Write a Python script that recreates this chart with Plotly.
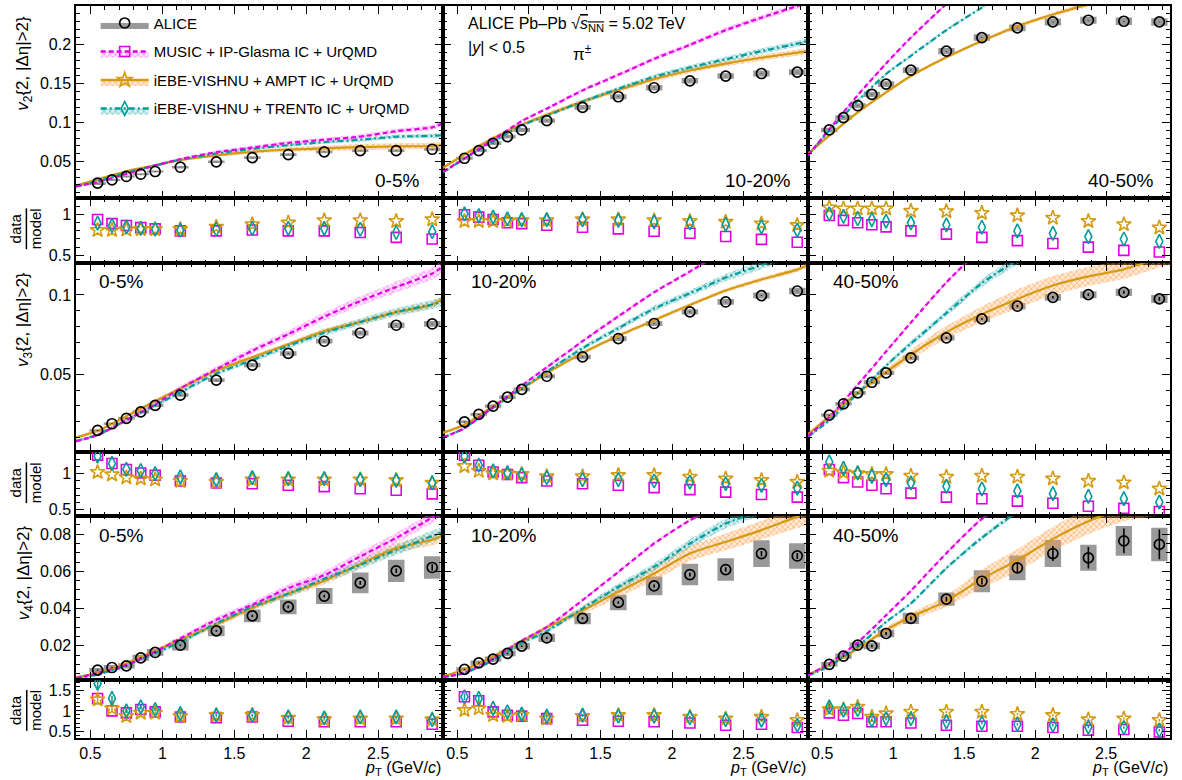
import plotly.graph_objects as go
from plotly.subplots import make_subplots

# ---------------- data ----------------
PT = [0.55, 0.65, 0.75, 0.85, 0.95, 1.125, 1.375, 1.625, 1.875, 2.125, 2.375, 2.625, 2.875]
MPT = [0.4, 0.55, 0.75, 0.95, 1.125, 1.375, 1.625, 1.875, 2.125, 2.375, 2.625, 2.875, 2.95]
CENTS = ["0-5%", "10-20%", "40-50%"]
MODELS = ["MUSIC + IP-Glasma IC + UrQMD", "iEBE-VISHNU + AMPT IC + UrQMD", "iEBE-VISHNU + TRENTo IC + UrQMD"]

# v2 data
v2_data_0005 = [0.0222, 0.0265, 0.0308, 0.0337, 0.0372, 0.0427, 0.0496, 0.055, 0.059, 0.0624, 0.064, 0.064, 0.0658]
v2_syst_0005 = [0.0012, 0.0012, 0.0013, 0.0013, 0.0014, 0.0015, 0.0016, 0.0017, 0.0018, 0.0018, 0.0019, 0.0019, 0.002]
v2_data_1020 = [0.0542, 0.0641, 0.0735, 0.082, 0.0906, 0.1026, 0.1196, 0.1333, 0.1449, 0.1538, 0.1599, 0.1632, 0.165]
v2_syst_1020 = [0.0018, 0.002, 0.0022, 0.0024, 0.0026, 0.0028, 0.003, 0.0032, 0.0034, 0.0035, 0.0036, 0.0037, 0.0038]
v2_data_4050 = [0.0906, 0.1064, 0.1218, 0.1363, 0.1496, 0.1676, 0.1919, 0.2094, 0.2218, 0.2295, 0.2317, 0.2304, 0.2295]
v2_syst_4050 = [0.003, 0.003, 0.0032, 0.0034, 0.0036, 0.0038, 0.004, 0.0042, 0.0044, 0.0045, 0.0046, 0.0047, 0.0048]
v2_stat_0005 = [0.0002] * 13
v2_stat_1020 = [0.0002] * 13
v2_stat_4050 = [0.0003] * 13

# v3 data
v3_data_0005 = [0.0145, 0.0187, 0.0221, 0.0262, 0.0303, 0.0368, 0.0462, 0.0557, 0.0631, 0.0708, 0.076, 0.0809, 0.0817]
v3_syst_0005 = [0.0008, 0.0008, 0.0009, 0.001, 0.001, 0.0011, 0.0012, 0.0013, 0.0014, 0.0015, 0.0016, 0.0017, 0.0018]
v3_data_1020 = [0.0199, 0.0246, 0.0298, 0.0355, 0.0404, 0.0487, 0.0609, 0.0725, 0.082, 0.0893, 0.0956, 0.0996, 0.1025]
v3_syst_1020 = [0.0009, 0.0009, 0.001, 0.0011, 0.0012, 0.0013, 0.0014, 0.0015, 0.0016, 0.0017, 0.0018, 0.0019, 0.002]
v3_data_4050 = [0.0241, 0.0313, 0.0382, 0.0449, 0.0508, 0.0603, 0.0729, 0.0849, 0.0929, 0.0985, 0.1002, 0.1017, 0.0975]
v3_syst_4050 = [0.001, 0.0011, 0.0012, 0.0013, 0.0014, 0.0015, 0.0017, 0.0019, 0.002, 0.0021, 0.0022, 0.0023, 0.0025]
v3_stat_0005 = [0.0002] * 13
v3_stat_1020 = [0.0002] * 13
v3_stat_4050 = [0.0003, 0.0003, 0.0003, 0.0003, 0.0003, 0.0004, 0.0005, 0.0006, 0.0007, 0.0008, 0.0009, 0.001, 0.0012]

# v4 data
v4_data_0005 = [0.0069, 0.0083, 0.0092, 0.0135, 0.0164, 0.0203, 0.028, 0.0361, 0.0409, 0.0467, 0.0538, 0.0603, 0.0621]
v4_syst_0005 = [0.0012, 0.0013, 0.0014, 0.0016, 0.0018, 0.0029, 0.0029, 0.0034, 0.004, 0.0043, 0.0056, 0.006, 0.006]
v4_stat_0005 = [0.0003, 0.0003, 0.0003, 0.0003, 0.0004, 0.0004, 0.0005, 0.0006, 0.0007, 0.0008, 0.001, 0.0012, 0.0018]
v4_data_1020 = [0.0073, 0.0108, 0.0128, 0.0159, 0.0198, 0.0242, 0.0347, 0.0433, 0.0522, 0.0583, 0.061, 0.0696, 0.0683]
v4_syst_1020 = [0.0012, 0.0013, 0.0014, 0.0016, 0.0018, 0.0022, 0.0031, 0.0042, 0.005, 0.0058, 0.006, 0.0072, 0.0069]
v4_stat_1020 = [0.0003, 0.0003, 0.0003, 0.0004, 0.0004, 0.0005, 0.0006, 0.0007, 0.0008, 0.001, 0.0012, 0.0014, 0.0016]
v4_data_4050 = [0.01, 0.0144, 0.0203, 0.0199, 0.0266, 0.0347, 0.0451, 0.0547, 0.0619, 0.0696, 0.0673, 0.0764, 0.0745]
v4_syst_4050 = [0.0012, 0.0014, 0.0016, 0.0018, 0.002, 0.003, 0.0036, 0.0059, 0.0066, 0.0073, 0.007, 0.008, 0.009]
v4_stat_4050 = [0.0004, 0.0005, 0.0006, 0.0007, 0.0008, 0.001, 0.0013, 0.0018, 0.0027, 0.004, 0.0058, 0.0067, 0.008]

# model central values (on MPT)
v2_music_0005 = [0.018, 0.0236, 0.034, 0.045, 0.053, 0.062, 0.068, 0.074, 0.078, 0.082, 0.089, 0.094, 0.099]
v2_ampt_0005 = [0.019, 0.027, 0.0375, 0.045, 0.052, 0.058, 0.0625, 0.0655, 0.067, 0.0685, 0.0695, 0.070, 0.071]
v2_trento_0005 = [0.018, 0.0248, 0.0355, 0.045, 0.0525, 0.0605, 0.0663, 0.071, 0.075, 0.078, 0.082, 0.083, 0.084]
v2_music_1020 = [0.037, 0.054, 0.078, 0.102, 0.118, 0.1415, 0.1615, 0.182, 0.2, 0.219, 0.235, 0.25, 0.255]
v2_ampt_1020 = [0.042, 0.059, 0.080, 0.0975, 0.110, 0.127, 0.142, 0.156, 0.167, 0.176, 0.1835, 0.19, 0.192]
v2_trento_1020 = [0.036, 0.0537, 0.0758, 0.0964, 0.109, 0.127, 0.1435, 0.159, 0.171, 0.1815, 0.192, 0.2015, 0.205]
v2_music_4050 = [0.058, 0.0915, 0.1353, 0.176, 0.2095, 0.2525, 0.291, 0.326, 0.356, 0.386, 0.411, 0.425, 0.43]
v2_ampt_4050 = [0.06, 0.0834, 0.1133, 0.139, 0.160, 0.184, 0.205, 0.224, 0.239, 0.252, 0.262, 0.273, 0.276]
v2_trento_4050 = [0.058, 0.0897, 0.128, 0.1626, 0.186, 0.219, 0.248, 0.277, 0.298, 0.317, 0.329, 0.3425, 0.345]

v3_music_0005 = [0.0076, 0.0116, 0.0209, 0.031, 0.041, 0.0531, 0.0648, 0.0753, 0.0863, 0.0962, 0.105, 0.1135, 0.118]
v3_ampt_0005 = [0.010, 0.0142, 0.0234, 0.033, 0.041, 0.0523, 0.0607, 0.0688, 0.0772, 0.0829, 0.0892, 0.0939, 0.098]
v3_trento_0005 = [0.0078, 0.0117, 0.0209, 0.0303, 0.0386, 0.0504, 0.059, 0.0679, 0.0761, 0.0829, 0.0892, 0.094, 0.096]
v3_music_1020 = [0.010, 0.0159, 0.0292, 0.0428, 0.0543, 0.0708, 0.0865, 0.1017, 0.1148, 0.1285, 0.14, 0.152, 0.155]
v3_ampt_1020 = [0.013, 0.0181, 0.0298, 0.0408, 0.0507, 0.0634, 0.0743, 0.084, 0.0937, 0.1028, 0.1098, 0.116, 0.119]
v3_trento_1020 = [0.0098, 0.016, 0.0288, 0.041, 0.0516, 0.0664, 0.079, 0.0914, 0.1011, 0.111, 0.1189, 0.128, 0.131]
v3_music_4050 = [0.011, 0.0228, 0.0433, 0.0643, 0.0826, 0.108, 0.130, 0.150, 0.167, 0.182, 0.196, 0.205, 0.21]
v3_ampt_4050 = [0.012, 0.0233, 0.0382, 0.0513, 0.0624, 0.0765, 0.0878, 0.0975, 0.106, 0.1117, 0.1162, 0.1234, 0.125]
v3_trento_4050 = [0.0105, 0.0208, 0.0379, 0.0554, 0.0693, 0.0885, 0.1075, 0.1222, 0.1364, 0.1463, 0.1557, 0.161, 0.165]

v4_music_0005 = [0.0026, 0.0053, 0.0097, 0.0168, 0.0239, 0.034, 0.042, 0.051, 0.058, 0.068, 0.078, 0.089, 0.093]
v4_ampt_0005 = [0.003, 0.0054, 0.0106, 0.0173, 0.0233, 0.0314, 0.0404, 0.048, 0.055, 0.064, 0.0725, 0.077, 0.0795]
v4_trento_0005 = [0.0025, 0.0045, 0.0095, 0.016, 0.022, 0.032, 0.041, 0.048, 0.056, 0.0635, 0.0715, 0.079, 0.0812]
v4_music_1020 = [0.0033, 0.0054, 0.0131, 0.0228, 0.030, 0.0445, 0.0597, 0.075, 0.0875, 0.097, 0.106, 0.116, 0.12]
v4_ampt_1020 = [0.0035, 0.0072, 0.0143, 0.0222, 0.0299, 0.039, 0.049, 0.0589, 0.0696, 0.0759, 0.0822, 0.0893, 0.091]
v4_trento_1020 = [0.003, 0.0054, 0.0121, 0.0215, 0.0278, 0.040, 0.0517, 0.0624, 0.075, 0.0857, 0.093, 0.102, 0.105]
v4_music_4050 = [0.0042, 0.0105, 0.0217, 0.0364, 0.0496, 0.0698, 0.0882, 0.10, 0.118, 0.129, 0.141, 0.155, 0.16]
v4_ampt_4050 = [0.0045, 0.0097, 0.0185, 0.0285, 0.0356, 0.044, 0.056, 0.066, 0.0775, 0.087, 0.094, 0.097, 0.098]
v4_trento_4050 = [0.004, 0.0091, 0.0196, 0.0328, 0.0428, 0.0618, 0.0781, 0.0924, 0.1077, 0.112, 0.1295, 0.1433, 0.147]

# model band half-widths (on MPT)
bw2_music_0005 = [0.0015, 0.0015, 0.0016, 0.0017, 0.0018, 0.002, 0.0022, 0.0024, 0.0026, 0.0028, 0.003, 0.0032, 0.0034]
bw2_ampt_0005 = [0.0015, 0.0015, 0.0016, 0.0017, 0.0018, 0.002, 0.0025, 0.003, 0.0035, 0.004, 0.004, 0.004, 0.004]
bw2_trento_0005 = [0.0012, 0.0012, 0.0013, 0.0014, 0.0015, 0.0016, 0.0018, 0.002, 0.0022, 0.0024, 0.0026, 0.0028, 0.003]
bw2_music_1020 = [0.0015, 0.0016, 0.0018, 0.002, 0.0022, 0.0024, 0.0026, 0.0028, 0.003, 0.0032, 0.0034, 0.0036, 0.0038]
bw2_ampt_1020 = [0.0018, 0.002, 0.0022, 0.0024, 0.0026, 0.0028, 0.003, 0.0032, 0.0034, 0.0036, 0.0038, 0.004, 0.004]
bw2_trento_1020 = [0.0015, 0.0016, 0.0018, 0.002, 0.0022, 0.0024, 0.0026, 0.0028, 0.003, 0.0033, 0.0036, 0.0038, 0.004]
bw2_music_4050 = [0.002, 0.002, 0.002, 0.002, 0.002, 0.002, 0.002, 0.002, 0.002, 0.002, 0.002, 0.002, 0.002]
bw2_ampt_4050 = [0.002, 0.002, 0.002, 0.002, 0.002, 0.0022, 0.0024, 0.0026, 0.0028, 0.003, 0.003, 0.003, 0.003]
bw2_trento_4050 = [0.002, 0.002, 0.002, 0.002, 0.002, 0.002, 0.002, 0.002, 0.002, 0.002, 0.002, 0.002, 0.002]

bw3_music_0005 = [0.0008, 0.001, 0.0012, 0.0014, 0.0016, 0.0018, 0.002, 0.0023, 0.0026, 0.003, 0.0034, 0.0038, 0.004]
bw3_ampt_0005 = [0.0008, 0.0008, 0.0009, 0.001, 0.0011, 0.0012, 0.0013, 0.0014, 0.0015, 0.0016, 0.0017, 0.0018, 0.002]
bw3_trento_0005 = [0.0008, 0.0008, 0.0009, 0.001, 0.0012, 0.0014, 0.0016, 0.0018, 0.002, 0.0022, 0.0025, 0.0028, 0.003]
bw3_music_1020 = [0.0008, 0.0008, 0.0009, 0.001, 0.001, 0.0011, 0.0011, 0.0012, 0.0012, 0.0013, 0.0014, 0.0015, 0.0015]
bw3_ampt_1020 = [0.0008, 0.0008, 0.0009, 0.001, 0.001, 0.0011, 0.0011, 0.0012, 0.0012, 0.0013, 0.0014, 0.0015, 0.0015]
bw3_trento_1020 = [0.0008, 0.0008, 0.0009, 0.001, 0.0012, 0.0014, 0.0016, 0.0018, 0.002, 0.0023, 0.0026, 0.0028, 0.003]
bw3_music_4050 = [0.001, 0.001, 0.001, 0.001, 0.001, 0.001, 0.001, 0.001, 0.001, 0.001, 0.001, 0.001, 0.001]
bw3_ampt_4050 = [0.001, 0.0012, 0.0015, 0.002, 0.003, 0.004, 0.005, 0.006, 0.006, 0.006, 0.006, 0.006, 0.006]
bw3_trento_4050 = [0.001, 0.001, 0.0012, 0.0014, 0.0016, 0.002, 0.0025, 0.003, 0.003, 0.003, 0.003, 0.003, 0.003]

bw4_music_0005 = [0.0005, 0.0006, 0.0008, 0.001, 0.0012, 0.0015, 0.0018, 0.002, 0.0023, 0.0026, 0.0028, 0.003, 0.003]
bw4_ampt_0005 = [0.0005, 0.0006, 0.0008, 0.001, 0.0012, 0.0014, 0.0016, 0.0018, 0.002, 0.0023, 0.0026, 0.003, 0.003]
bw4_trento_0005 = [0.0005, 0.0006, 0.0008, 0.001, 0.0012, 0.0014, 0.0016, 0.0018, 0.002, 0.0023, 0.0026, 0.003, 0.003]
bw4_music_1020 = [0.0006, 0.0006, 0.0007, 0.0008, 0.0008, 0.0008, 0.0008, 0.0008, 0.0008, 0.0008, 0.0008, 0.0008, 0.0008]
bw4_ampt_1020 = [0.0005, 0.0006, 0.0008, 0.001, 0.0015, 0.002, 0.003, 0.004, 0.004, 0.0045, 0.005, 0.006, 0.006]
bw4_trento_1020 = [0.0006, 0.0006, 0.0008, 0.001, 0.0012, 0.0015, 0.0018, 0.002, 0.0023, 0.0026, 0.0028, 0.003, 0.003]
bw4_music_4050 = [0.0008, 0.0008, 0.0008, 0.0008, 0.0008, 0.0008, 0.0008, 0.0008, 0.0008, 0.0008, 0.0008, 0.0008, 0.0008]
bw4_ampt_4050 = [0.0006, 0.0008, 0.001, 0.0015, 0.002, 0.003, 0.005, 0.006, 0.0065, 0.007, 0.007, 0.007, 0.007]
bw4_trento_4050 = [0.0008, 0.0008, 0.0008, 0.0008, 0.0008, 0.001, 0.0012, 0.0014, 0.0016, 0.0016, 0.0016, 0.0016, 0.0016]

# data/model ratios (on PT)
r2_music_0005 = [0.94, 0.89, 0.866, 0.84, 0.825, 0.80, 0.80, 0.81, 0.80, 0.80, 0.78, 0.72, 0.70]
r2_ampt_0005 = [0.81, 0.81, 0.815, 0.82, 0.82, 0.82, 0.85, 0.88, 0.90, 0.93, 0.93, 0.92, 0.94]
r2_trento_0005 = [0.895, 0.866, 0.85, 0.83, 0.82, 0.81, 0.82, 0.83, 0.83, 0.83, 0.82, 0.78, 0.79]
r2_music_1020 = [1.0, 0.97, 0.94, 0.90, 0.89, 0.87, 0.845, 0.825, 0.795, 0.77, 0.73, 0.695, 0.66]
r2_ampt_1020 = [0.92, 0.92, 0.92, 0.92, 0.93, 0.93, 0.94, 0.94, 0.93, 0.92, 0.91, 0.89, 0.87]
r2_trento_1020 = [1.01, 0.99, 0.97, 0.95, 0.94, 0.94, 0.94, 0.93, 0.91, 0.90, 0.88, 0.85, 0.81]
r2_music_4050 = [0.99, 0.93, 0.90, 0.875, 0.85, 0.80, 0.76, 0.72, 0.68, 0.645, 0.60, 0.56, 0.54]
r2_ampt_4050 = [1.087, 1.075, 1.075, 1.075, 1.075, 1.045, 1.041, 1.02, 0.99, 0.96, 0.92, 0.88, 0.84]
r2_trento_4050 = [1.01, 0.98, 0.95, 0.94, 0.92, 0.90, 0.875, 0.845, 0.80, 0.77, 0.73, 0.70, 0.67]

r3_music_0005 = [1.254, 1.139, 1.056, 1.008, 0.976, 0.897, 0.87, 0.86, 0.838, 0.82, 0.79, 0.77, 0.72]
r3_ampt_0005 = [1.02, 0.986, 0.945, 0.93, 0.917, 0.897, 0.883, 0.917, 0.917, 0.917, 0.917, 0.907, 0.87]
r3_trento_0005 = [1.24, 1.14, 1.056, 1.04, 1.0, 0.953, 0.917, 0.944, 0.93, 0.93, 0.917, 0.907, 0.87]
r3_music_1020 = [1.254, 1.115, 1.022, 0.986, 0.944, 0.897, 0.86, 0.838, 0.806, 0.778, 0.744, 0.712, 0.675]
r3_ampt_1020 = [1.10, 1.036, 1.0, 1.0, 0.99, 0.96, 0.96, 0.976, 0.976, 0.953, 0.93, 0.907, 0.883]
r3_trento_1020 = [1.24, 1.115, 1.036, 1.008, 0.986, 0.944, 0.917, 0.917, 0.897, 0.883, 0.86, 0.838, 0.80]
r3_music_4050 = [1.056, 0.944, 0.883, 0.838, 0.79, 0.73, 0.675, 0.653, 0.62, 0.59, 0.55, 0.52, 0.476]
r3_ampt_4050 = [1.036, 1.014, 1.0, 0.99, 0.99, 0.967, 0.953, 0.967, 0.953, 0.93, 0.897, 0.875, 0.79]
r3_trento_4050 = [1.16, 1.07, 1.008, 0.96, 0.917, 0.87, 0.824, 0.79, 0.76, 0.722, 0.685, 0.653, 0.605]

r4_music_0005 = [1.307, 1.0, 0.95, 1.035, 0.975, 0.85, 0.835, 0.85, 0.745, 0.73, 0.73, 0.73, 0.67]
r4_ampt_0005 = [1.28, 1.06, 0.87, 0.95, 0.95, 0.87, 0.893, 0.893, 0.826, 0.787, 0.81, 0.81, 0.787]
r4_trento_0005 = [1.68, 1.307, 1.0, 1.1, 1.035, 0.935, 0.893, 0.893, 0.85, 0.826, 0.85, 0.85, 0.787]
r4_music_1020 = [1.35, 1.25, 0.975, 0.893, 0.87, 0.81, 0.77, 0.745, 0.73, 0.70, 0.646, 0.67, 0.59]
r4_ampt_1020 = [1.017, 1.06, 0.893, 0.87, 0.893, 0.81, 0.87, 0.893, 0.893, 0.85, 0.81, 0.85, 0.77]
r4_trento_1020 = [1.35, 1.307, 1.06, 0.975, 0.92, 0.87, 0.893, 0.87, 0.87, 0.835, 0.787, 0.77, 0.646]
r4_music_4050 = [0.95, 0.893, 0.935, 0.73, 0.73, 0.70, 0.646, 0.62, 0.62, 0.59, 0.52, 0.54, 0.48]
r4_ampt_4050 = [1.035, 1.035, 1.1, 0.85, 0.935, 0.975, 0.975, 0.975, 0.92, 0.893, 0.787, 0.81, 0.77]
r4_trento_4050 = [1.1, 1.017, 1.035, 0.77, 0.81, 0.81, 0.73, 0.70, 0.67, 0.646, 0.60, 0.59, 0.52]
r4_err_0005 = [0.13, 0.07, 0.05, 0.05, 0.04, 0.03, 0.03, 0.03, 0.03, 0.03, 0.03, 0.03, 0.04]
r4_err_1020 = [0.08, 0.06, 0.04, 0.04, 0.04, 0.03, 0.03, 0.03, 0.03, 0.03, 0.03, 0.03, 0.04]
r4_err_4050 = [0.08, 0.06, 0.05, 0.04, 0.04, 0.03, 0.03, 0.03, 0.03, 0.03, 0.03, 0.03, 0.03]

# ---------------- assemble tables ----------------
DATA = {
    2: [(v2_data_0005, v2_syst_0005, v2_stat_0005), (v2_data_1020, v2_syst_1020, v2_stat_1020), (v2_data_4050, v2_syst_4050, v2_stat_4050)],
    3: [(v3_data_0005, v3_syst_0005, v3_stat_0005), (v3_data_1020, v3_syst_1020, v3_stat_1020), (v3_data_4050, v3_syst_4050, v3_stat_4050)],
    4: [(v4_data_0005, v4_syst_0005, v4_stat_0005), (v4_data_1020, v4_syst_1020, v4_stat_1020), (v4_data_4050, v4_syst_4050, v4_stat_4050)],
}
MOD = {
    2: [[(v2_music_0005, bw2_music_0005), (v2_ampt_0005, bw2_ampt_0005), (v2_trento_0005, bw2_trento_0005)],
        [(v2_music_1020, bw2_music_1020), (v2_ampt_1020, bw2_ampt_1020), (v2_trento_1020, bw2_trento_1020)],
        [(v2_music_4050, bw2_music_4050), (v2_ampt_4050, bw2_ampt_4050), (v2_trento_4050, bw2_trento_4050)]],
    3: [[(v3_music_0005, bw3_music_0005), (v3_ampt_0005, bw3_ampt_0005), (v3_trento_0005, bw3_trento_0005)],
        [(v3_music_1020, bw3_music_1020), (v3_ampt_1020, bw3_ampt_1020), (v3_trento_1020, bw3_trento_1020)],
        [(v3_music_4050, bw3_music_4050), (v3_ampt_4050, bw3_ampt_4050), (v3_trento_4050, bw3_trento_4050)]],
    4: [[(v4_music_0005, bw4_music_0005), (v4_ampt_0005, bw4_ampt_0005), (v4_trento_0005, bw4_trento_0005)],
        [(v4_music_1020, bw4_music_1020), (v4_ampt_1020, bw4_ampt_1020), (v4_trento_1020, bw4_trento_1020)],
        [(v4_music_4050, bw4_music_4050), (v4_ampt_4050, bw4_ampt_4050), (v4_trento_4050, bw4_trento_4050)]],
}
RAT = {
    2: [[r2_music_0005, r2_ampt_0005, r2_trento_0005], [r2_music_1020, r2_ampt_1020, r2_trento_1020], [r2_music_4050, r2_ampt_4050, r2_trento_4050]],
    3: [[r3_music_0005, r3_ampt_0005, r3_trento_0005], [r3_music_1020, r3_ampt_1020, r3_trento_1020], [r3_music_4050, r3_ampt_4050, r3_trento_4050]],
    4: [[r4_music_0005, r4_ampt_0005, r4_trento_0005], [r4_music_1020, r4_ampt_1020, r4_trento_1020], [r4_music_4050, r4_ampt_4050, r4_trento_4050]],
}
RERR = {4: [r4_err_0005, r4_err_1020, r4_err_4050]}

# ---------------- style ----------------
FONT = "Liberation Sans, Arial, Helvetica, sans-serif"
GRAY = "#999999"
LINE_COL = ["#e000e0", "#d49a10", "#009b9b"]
BAND_BG = ["rgba(255,140,255,0.22)", "rgba(255,170,100,0.25)", "rgba(90,190,190,0.22)"]
BAND_FG = ["#ff66ff", "#ff9a40", "#40b0b0"]
DASH = ["5px,3px", "solid", "6px,3px,2px,3px"]
SYMB = ["square-open", "star-open", "diamond-tall-open"]
SYMSIZE = [10, 11, 10]
DRAW_ORDER = [1, 2, 0]

heights = [193, 65, 189, 64, 165, 58]
widths = [367, 365, 362]
fig = make_subplots(rows=6, cols=3, shared_xaxes=True, shared_yaxes=True,
                    horizontal_spacing=0, vertical_spacing=0,
                    row_heights=[h / sum(heights) for h in heights],
                    column_widths=[w / sum(widths) for w in widths])


def band_pattern(k):
    return dict(shape="x", size=4, solidity=0.35, fgcolor=BAND_FG[k], fgopacity=0.7, bgcolor=BAND_BG[k])


for n in (2, 3, 4):
    mrow = 2 * (n - 2) + 1
    rrow = mrow + 1
    for c in range(3):
        col = c + 1
        vals, syst, stat = DATA[n][c]
        # systematic boxes
        fig.add_trace(go.Bar(x=PT, y=[2 * s for s in syst], base=[v - s for v, s in zip(vals, syst)],
                             width=0.115, marker=dict(color=GRAY, line=dict(width=0)),
                             showlegend=False, hoverinfo="skip"), row=mrow, col=col)
        # model bands
        for k in DRAW_ORDER:
            cen, bw = MOD[n][c][k]
            fig.add_trace(go.Scatter(x=MPT, y=[a + b for a, b in zip(cen, bw)], mode="lines",
                                     line=dict(width=0, shape="spline", smoothing=0.6),
                                     showlegend=False, hoverinfo="skip"), row=mrow, col=col)
            fig.add_trace(go.Scatter(x=MPT, y=[a - b for a, b in zip(cen, bw)], mode="lines",
                                     line=dict(width=0, shape="spline", smoothing=0.6),
                                     fill="tonexty", fillcolor=BAND_BG[k], fillpattern=band_pattern(k),
                                     showlegend=False, hoverinfo="skip"), row=mrow, col=col)
        for k in DRAW_ORDER:
            cen, bw = MOD[n][c][k]
            fig.add_trace(go.Scatter(x=MPT, y=cen, mode="lines",
                                     line=dict(color=LINE_COL[k], width=2.2, dash=DASH[k], shape="spline", smoothing=0.6),
                                     showlegend=False, hoverinfo="skip"), row=mrow, col=col)
        # data points
        fig.add_trace(go.Scatter(x=PT, y=vals, mode="markers",
                                 marker=dict(symbol="circle-open", size=10, color="black", line=dict(width=1.7)),
                                 error_y=dict(type="data", array=stat, color="black", thickness=1.6, width=0),
                                 showlegend=False, hoverinfo="skip"), row=mrow, col=col)
        # ratios
        fig.add_hline(y=1, line=dict(color="black", width=1.2, dash="dash"), row=rrow, col=col)
        for k in (0, 1, 2):
            err = None
            if n in RERR and k > 0:
                err = dict(type="data", array=RERR[n][c], color=LINE_COL[k], thickness=1.5, width=0)
            fig.add_trace(go.Scatter(x=PT, y=RAT[n][c][k], mode="markers",
                                     marker=dict(symbol=SYMB[k], size=SYMSIZE[k], color=LINE_COL[k], line=dict(width=1.6)),
                                     error_y=err, showlegend=False, hoverinfo="skip"), row=rrow, col=col)

# legend entries
fig.add_trace(go.Scatter(x=[None], y=[None], mode="markers", name="ALICE", legendgroup="a",
                         marker=dict(symbol="circle-open", size=10, color="black", line=dict(width=1.7)),
                         fill="toself", fillcolor=GRAY, line=dict(width=0, color=GRAY)), row=1, col=1)
for k in range(3):
    fig.add_trace(go.Scatter(x=[None], y=[None], mode="lines+markers", name=MODELS[k], legendgroup="m%d" % k,
                             marker=dict(symbol=SYMB[k], size=SYMSIZE[k], color=LINE_COL[k], line=dict(width=1.6)),
                             line=dict(color=LINE_COL[k], width=2.5, dash=DASH[k]),
                             fill="toself", fillcolor=BAND_BG[k], fillpattern=band_pattern(k)), row=1, col=1)

# ---------------- axes ----------------
axis_common = dict(showline=True, linecolor="black", linewidth=1.5, mirror="ticks", ticks="inside",
                   ticklen=8, tickwidth=1, tickcolor="black", showgrid=False, zeroline=False,
                   tickfont=dict(family=FONT, size=16, color="black"))
for col in (1, 2, 3):
    for row in range(1, 7):
        fig.update_xaxes(range=[0.4, 2.95], tick0=0, dtick=0.5,
                         minor=dict(ticks="inside", ticklen=4, dtick=0.1, tick0=0, tickcolor="black", showgrid=False),
                         row=row, col=col, **axis_common)

YSPEC = {
    1: dict(range=[0.0025, 0.25], dtick=0.05, mdt=0.01),
    2: dict(range=[0.4, 1.2], dtick=0.5, mdt=0.1),
    3: dict(range=[0.001, 0.12], dtick=0.05, mdt=0.01),
    4: dict(range=[0.42, 1.3], dtick=0.5, mdt=0.1),
    5: dict(range=[0.0015, 0.09], dtick=0.02, mdt=0.005),
    6: dict(range=[0.33, 1.76], dtick=0.5, mdt=0.1),
}
for row, sp in YSPEC.items():
    for col in (1, 2, 3):
        fig.update_yaxes(range=sp["range"], tick0=0, dtick=sp["dtick"],
                         minor=dict(ticks="inside", ticklen=4, dtick=sp["mdt"], tick0=0, tickcolor="black", showgrid=False),
                         row=row, col=col, **axis_common)

# ---------------- annotations ----------------
ann = []
tfont = dict(family=FONT, color="black")
xdom = ["x domain", "x2 domain", "x3 domain"]

ytitles = [("<i>v</i><sub>2</sub>{2, |Δη|>2}", 0.922), ("<i>v</i><sub>3</sub>{2, |Δη|>2}", 0.572),
           ("<i>v</i><sub>4</sub>{2, |Δη|>2}", 0.226)]
for txt, yy in ytitles:
    ann.append(dict(text=txt, xref="paper", yref="paper", x=-0.047, y=yy, textangle=-90,
                    showarrow=False, xanchor="center", yanchor="middle", font=dict(size=17, **tfont)))
for yy in (0.696, 0.349, 0.038):
    ann.append(dict(text="data<br><span style='text-decoration:overline'>model</span>", xref="paper", yref="paper",
                    x=-0.046, y=yy, textangle=-90, showarrow=False, xanchor="center", yanchor="middle",
                    font=dict(size=15, **tfont)))

# centrality labels
v2x = [0.94, 0.96, 0.962]
for c in range(3):
    ann.append(dict(text=CENTS[c], xref=xdom[c], yref="paper", x=v2x[c], y=0.762, xanchor="right", yanchor="middle",
                    showarrow=False, font=dict(size=19, **tfont)))
for c, xl in enumerate([0.058, 0.072, 0.064]):
    for yy in (0.624, 0.2766):
        ann.append(dict(text=CENTS[c], xref=xdom[c], yref="paper", x=xl, y=yy, xanchor="left", yanchor="middle",
                        showarrow=False, font=dict(size=19, **tfont)))

ann.append(dict(text="ALICE Pb–Pb √<span style='text-decoration:overline'><i>s</i><sub>NN</sub></span> = 5.02 TeV",
                xref="x2 domain", yref="paper", x=0.062, y=0.975, xanchor="left", yanchor="middle",
                showarrow=False, font=dict(size=16, **tfont)))
ann.append(dict(text="|<i>y</i>| < 0.5", xref="x2 domain", yref="paper", x=0.062, y=0.943, xanchor="left",
                yanchor="middle", showarrow=False, font=dict(size=16, **tfont)))
ann.append(dict(text="π<sup>±</sup>", xref="x2 domain", yref="paper", x=0.35, y=0.936, xanchor="left",
                yanchor="middle", showarrow=False, font=dict(size=17, **tfont)))
for c in range(3):
    ann.append(dict(text="<i>p</i><sub>T</sub> (GeV/<i>c</i>)", xref=xdom[c], yref="paper", x=1.0, y=-0.042,
                    xanchor="right", yanchor="middle", showarrow=False, font=dict(size=16, **tfont)))

fig.update_layout(
    width=1182, height=780,
    margin=dict(l=76, r=12, t=4, b=42),
    paper_bgcolor="white", plot_bgcolor="white",
    barmode="overlay",
    annotations=ann,
    font=dict(family=FONT, color="black"),
    showlegend=True,
    legend=dict(x=0.018, y=0.999, xanchor="left", yanchor="top", bgcolor="rgba(0,0,0,0)",
                font=dict(family=FONT, size=15, color="black"), itemwidth=48, tracegroupgap=6,
                itemsizing="trace"),
)

fig.write_html("out.html", config={"displayModeBar": False},
               post_script="document.body.style.margin='0';")
